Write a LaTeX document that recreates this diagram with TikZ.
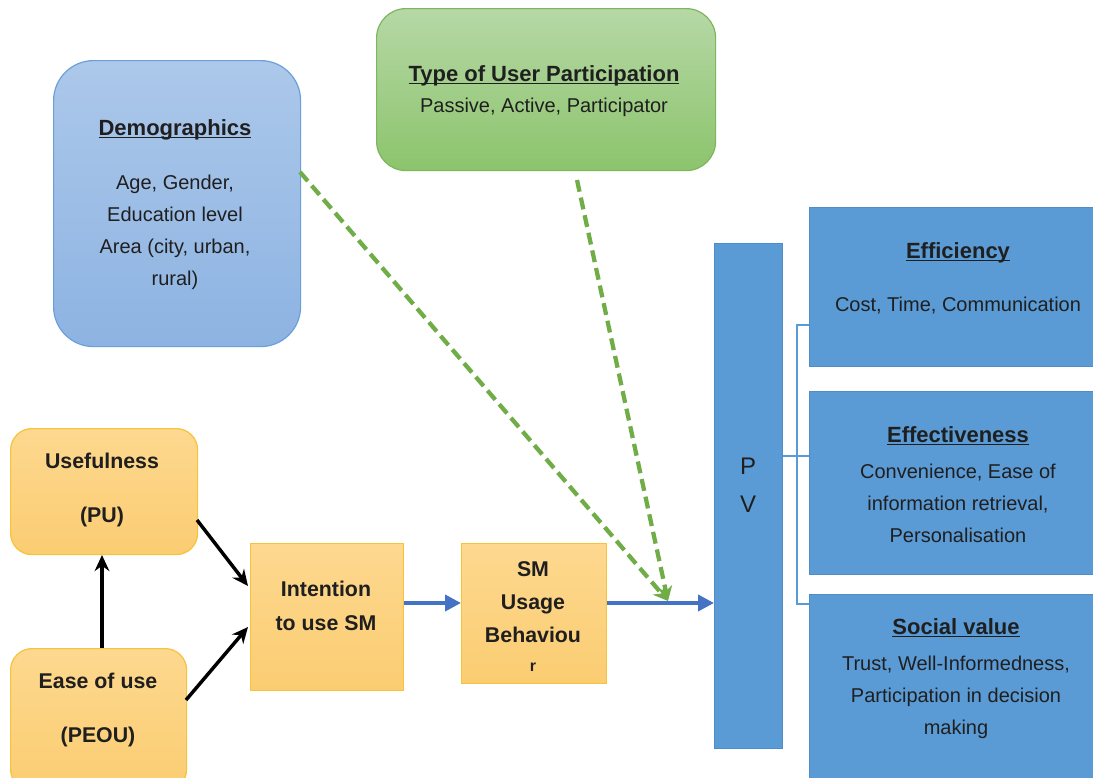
\documentclass[tikz,border=0pt]{standalone}
\usepackage{fontspec}
\setmainfont{Liberation Sans}
\usetikzlibrary{arrows.meta,calc}

\definecolor{orfill}{HTML}{FDD88F}
\definecolor{orfillb}{HTML}{FBCD72}
\definecolor{ordraw}{HTML}{F7C33A}
\definecolor{pvblue}{HTML}{5B9BD5}
\definecolor{pvdraw}{HTML}{4F8CC8}
\definecolor{demtop}{HTML}{ACC8EA}
\definecolor{dembot}{HTML}{8DB3E2}
\definecolor{demdraw}{HTML}{6C9FDA}
\definecolor{grtop}{HTML}{B6D8A6}
\definecolor{grbot}{HTML}{8CC46C}
\definecolor{grdraw}{HTML}{7EB65E}
\definecolor{arrblue}{HTML}{4472C4}
\definecolor{dashgreen}{HTML}{70AD47}

\newcommand{\headline}[1]{\underline{\smash{#1}}}

\tikzset{
  box/.style={anchor=north west, inner sep=0pt, line width=0.9pt},
  orbox/.style={box, draw=ordraw, top color=orfill, bottom color=orfillb},
  bluebox/.style={box, draw=pvdraw, fill=pvblue},
  headfont/.style={font=\fontsize{16.5}{20}\selectfont\bfseries},
  bodyfont/.style={font=\fontsize{15}{24}\selectfont, align=center},
  boldbody/.style={font=\fontsize{16}{25}\selectfont\bfseries, align=center},
  txt/.style={inner sep=0pt, text=black!88},
  flow/.style={draw=arrblue, line width=2.8pt, -{Triangle[length=12pt,width=12pt]}},
  blackarrow/.style={draw=black, line width=2.6pt, -{Stealth[length=12pt,width=11pt]}},
  influence/.style={draw=dashgreen, line width=3.2pt, dash pattern=on 9pt off 4.5pt,
    -{Stealth[length=11pt,width=11pt]}},
  branch/.style={draw=pvblue, line width=0.9pt}
}

\begin{document}
\begin{tikzpicture}[x=0.75pt,y=-0.75pt]
\clip (0,0) rectangle (1093,778);
\useasboundingbox (0,0) rectangle (1093,778);
\fill[white] (0,0) rectangle (1093,778);

% moderating factors
\node[box, draw=demdraw, top color=demtop, bottom color=dembot, rounded corners=30pt,
      minimum width=185.25pt, minimum height=214.5pt] (demo) at (53,60) {};
\node[box, draw=grdraw, top color=grtop, bottom color=grbot, rounded corners=22pt,
      minimum width=254.25pt, minimum height=121.5pt] (type) at (376,8) {};

% TAM constructs
\node[orbox, rounded corners=16pt, minimum width=140.25pt, minimum height=94.5pt] (pu) at (10,428) {};
\node[orbox, rounded corners=16pt, minimum width=132pt, minimum height=106.5pt] (peou) at (10,648) {};
\node[orbox, minimum width=114.75pt, minimum height=110.25pt] (intent) at (250,543) {};
\node[orbox, minimum width=108.75pt, minimum height=105pt] (usage) at (461,543) {};

% public value and its dimensions
\node[bluebox, minimum width=51pt, minimum height=378.75pt] (pv) at (714,243) {};
\node[bluebox, minimum width=220pt, minimum height=119.25pt] (eff) at (809,207) {};
\node[bluebox, minimum width=220pt, minimum height=137.25pt] (effect) at (809,391) {};
\node[bluebox, minimum width=220pt, minimum height=147pt] (social) at (809,594) {};

% texts
\node[txt, headfont] (demoh) at (175,137) {\headline{Demographics}};
\node[txt, bodyfont] (demob) at (175,232) {Age, Gender,\\Education level\\Area (city, urban,\\rural)};
\node[txt, headfont] (typeh) at (544,83) {\headline{Type of User\ Participation}};
\node[txt, bodyfont] (typeb) at (544,107) {Passive, Active, Participator};

\node[txt, boldbody] (puh) at (102,461) {Usefulness};
\node[txt, boldbody] (pub) at (102,517) {(PU)};
\node[txt, boldbody] (peouh) at (98,681) {Ease of use};
\node[txt, boldbody] (peoub) at (98,737) {(PEOU)};
\node[txt, boldbody] (intentt) at (326,606) {Intention\\to use SM};
\node[txt, boldbody] (usaget) at (533,602) {SM\\Usage\\Behaviou};
\node[txt, font=\fontsize{12}{14}\selectfont\bfseries] (usager) at (533,667) {r};

\node[txt, font=\fontsize{18}{20}\selectfont] (pvp) at (748,466) {P};
\node[txt, font=\fontsize{18}{20}\selectfont] (pvv) at (748,504) {V};

\node[txt, headfont] (effh) at (958,260) {\headline{Efficiency}};
\node[txt, bodyfont] (effb) at (958,306) {Cost, Time, Communication};
\node[txt, headfont] (effecth) at (958,444) {\headline{Effectiveness}};
\node[txt, bodyfont] (effectb) at (958,503) {Convenience, Ease of\\information retrieval,\\Personalisation};
\node[txt, headfont] (socialh) at (956,636) {\headline{Social value}};
\node[txt, bodyfont] (socialb) at (956,697) {Trust, Well-Informedness,\\Participation in decision\\making};

% TAM arrows
\draw[blackarrow] (peou.north -| 102,0) -- (102,555);
\draw[blackarrow] (197,520) -- (248,586);
\draw[blackarrow] (186,700) -- (248,627);

% main flow
\draw[flow] (intent.east |- 0,603) -- (usage.west |- 0,603);
\draw[flow] (usage.east |- 0,603) -- (pv.west |- 0,603);

% moderating influences
\coordinate (hit) at (668,601);
\coordinate (demoout) at (300,172);
\coordinate (typeout) at (577,180);
\draw[influence] (demoout) -- (hit);
\draw[influence] (typeout) -- (hit);

% bracket to the dimensions
\coordinate (spine) at (797,456);
\draw[branch] (pv.east |- spine) -- (effect.west |- spine);
\draw[branch] (eff.west |- 0,325) -- (797,325) -- (797,604) -- (social.west |- 0,604);
\end{tikzpicture}
\end{document}
